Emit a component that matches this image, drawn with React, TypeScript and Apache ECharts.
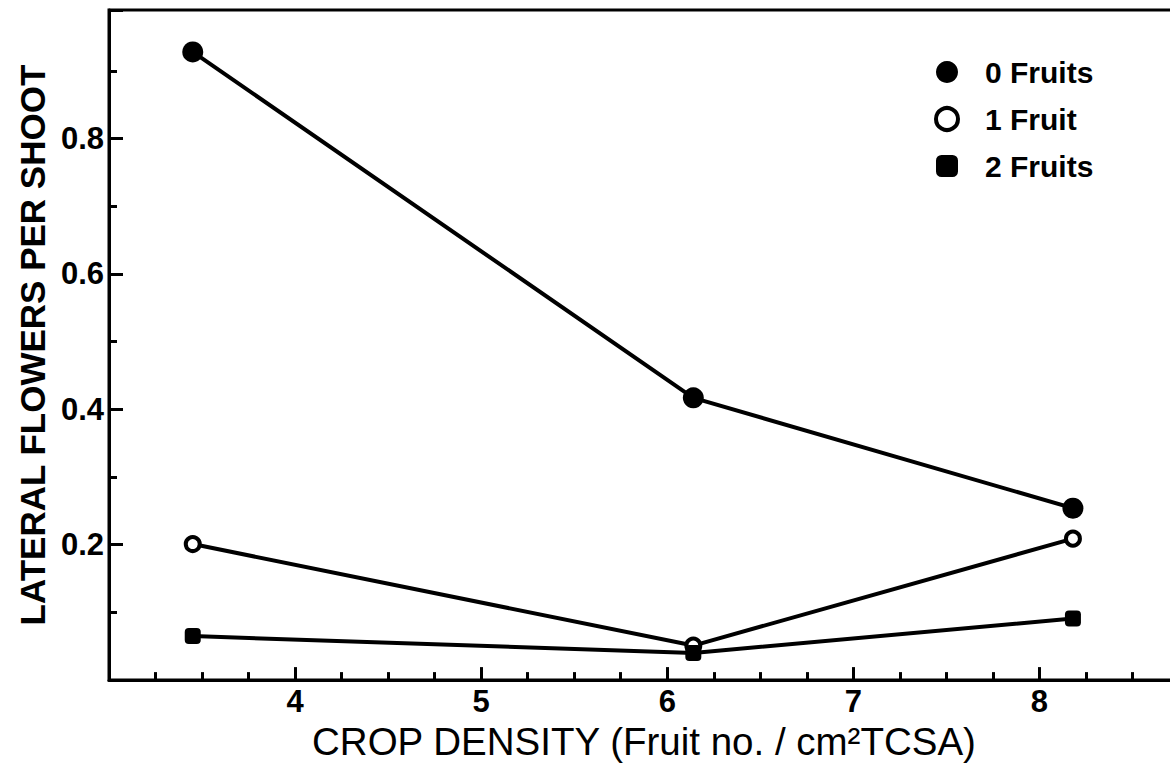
import React, { useEffect, useRef } from "react";
import * as echarts from "echarts";

const cropDensity = [3.45, 6.14, 8.18];
const zeroFruits = [0.928, 0.417, 0.254];
const oneFruit = [0.201, 0.051, 0.209];
const twoFruits = [0.065, 0.04, 0.091];
const seriesNames = ["0 Fruits", "1 Fruit", "2 Fruits"];
const xTickLabels = [4, 5, 6, 7, 8];
const yTickLabels = [0.2, 0.4, 0.6, 0.8];

const FONT = '"Liberation Sans", Arial, Helvetica, sans-serif';

const pairs = (ys: number[]) => cropDensity.map((x, i) => [x, ys[i]]);

export default function App() {
  const ref = useRef<HTMLDivElement>(null);
  useEffect(() => {
    if (!ref.current) return;
    document.body.style.overflow = "hidden";
    const chart = echarts.init(ref.current, null, { renderer: "svg" });
    const black = "#000";
    const lineStyle = { color: black, width: 4 };
    chart.setOption({
      animation: false,
      backgroundColor: "#fff",
      grid: {
        left: 109,
        right: 0,
        top: 10,
        bottom: 85,
        show: true,
        borderColor: black,
        borderWidth: 3,
        backgroundColor: "transparent",
      },
      legend: {
        orient: "vertical",
        left: 929,
        top: 52,
        itemWidth: 22,
        itemHeight: 22,
        itemGap: 17,
        textStyle: {
          fontFamily: FONT,
          fontWeight: "bold",
          fontSize: 30,
          color: black,
          lineHeight: 30,
          padding: [0, 0, 0, 22],
        },
        data: [
          { name: seriesNames[0], icon: "circle", itemStyle: { color: black, borderWidth: 0 } },
          {
            name: seriesNames[1],
            icon: "circle",
            itemStyle: { color: "#fff", borderColor: black, borderWidth: 4 },
          },
          { name: seriesNames[2], icon: "roundRect", itemStyle: { color: black, borderWidth: 0 } },
        ],
      },
      xAxis: [
        {
          type: "value",
          position: "bottom",
          min: 3,
          max: 8.75,
          interval: 1,
          splitLine: { show: false },
          axisLine: { show: true, lineStyle: { color: black, width: 3 } },
          axisTick: { show: true, inside: true, length: 13, lineStyle: { color: black, width: 3 } },
          axisLabel: {
            show: true,
            margin: 6,
            fontFamily: FONT,
            fontWeight: "bold",
            fontSize: 31,
            color: black,
            formatter: (v: number) => (xTickLabels.includes(v) ? String(v) : ""),
          },
          name: "CROP DENSITY (Fruit no. / cm²TCSA)",
          nameLocation: "middle",
          nameGap: 39,
          nameTextStyle: { fontFamily: FONT, fontSize: 38.5, color: black, fontWeight: "normal" },
        },
        {
          type: "value",
          position: "bottom",
          min: 3,
          max: 8.75,
          interval: 0.25,
          splitLine: { show: false },
          axisLine: { show: false },
          axisTick: { show: true, inside: true, length: 8, lineStyle: { color: black, width: 3 } },
          axisLabel: { show: false },
        },
      ],
      yAxis: [
        {
          type: "value",
          position: "left",
          min: 0,
          max: 0.99,
          interval: 0.2,
          splitLine: { show: false },
          axisLine: { show: true, lineStyle: { color: black, width: 3 } },
          axisTick: { show: true, inside: true, length: 14, lineStyle: { color: black, width: 3 } },
          axisLabel: {
            show: true,
            margin: 5,
            fontFamily: FONT,
            fontWeight: "bold",
            fontSize: 31,
            color: black,
            formatter: (v: number) => {
              const r = Math.round(v * 10) / 10;
              return yTickLabels.includes(r) && Math.abs(v - r) < 1e-6 ? r.toFixed(1) : "";
            },
          },
          name: "LATERAL FLOWERS PER SHOOT",
          nameLocation: "middle",
          nameRotate: 90,
          nameGap: 52,
          nameTextStyle: { fontFamily: FONT, fontSize: 35, color: black, fontWeight: "bold" },
        },
        {
          type: "value",
          position: "left",
          min: 0,
          max: 0.99,
          interval: 0.1,
          splitLine: { show: false },
          axisLine: { show: false },
          axisTick: { show: true, inside: true, length: 8, lineStyle: { color: black, width: 3 } },
          axisLabel: { show: false },
        },
      ],
      series: [
        {
          name: seriesNames[0],
          type: "line",
          xAxisIndex: 0,
          yAxisIndex: 0,
          data: pairs(zeroFruits),
          symbol: "circle",
          symbolSize: 21,
          itemStyle: { color: black },
          lineStyle,
          z: 3,
        },
        {
          name: seriesNames[1],
          type: "line",
          xAxisIndex: 0,
          yAxisIndex: 0,
          data: pairs(oneFruit),
          symbol: "circle",
          symbolSize: 14,
          itemStyle: { color: "#fff", borderColor: black, borderWidth: 4 },
          lineStyle,
          z: 3,
        },
        {
          name: seriesNames[2],
          type: "line",
          xAxisIndex: 0,
          yAxisIndex: 0,
          data: pairs(twoFruits),
          symbol: "roundRect",
          symbolSize: 16,
          itemStyle: { color: black },
          lineStyle,
          z: 3,
        },
      ],
    });
    return () => chart.dispose();
  }, []);
  return (
    <div
      ref={ref}
      style={{ position: "fixed", left: 0, top: 0, width: 1182, height: 766, background: "#fff" }}
    />
  );
}
